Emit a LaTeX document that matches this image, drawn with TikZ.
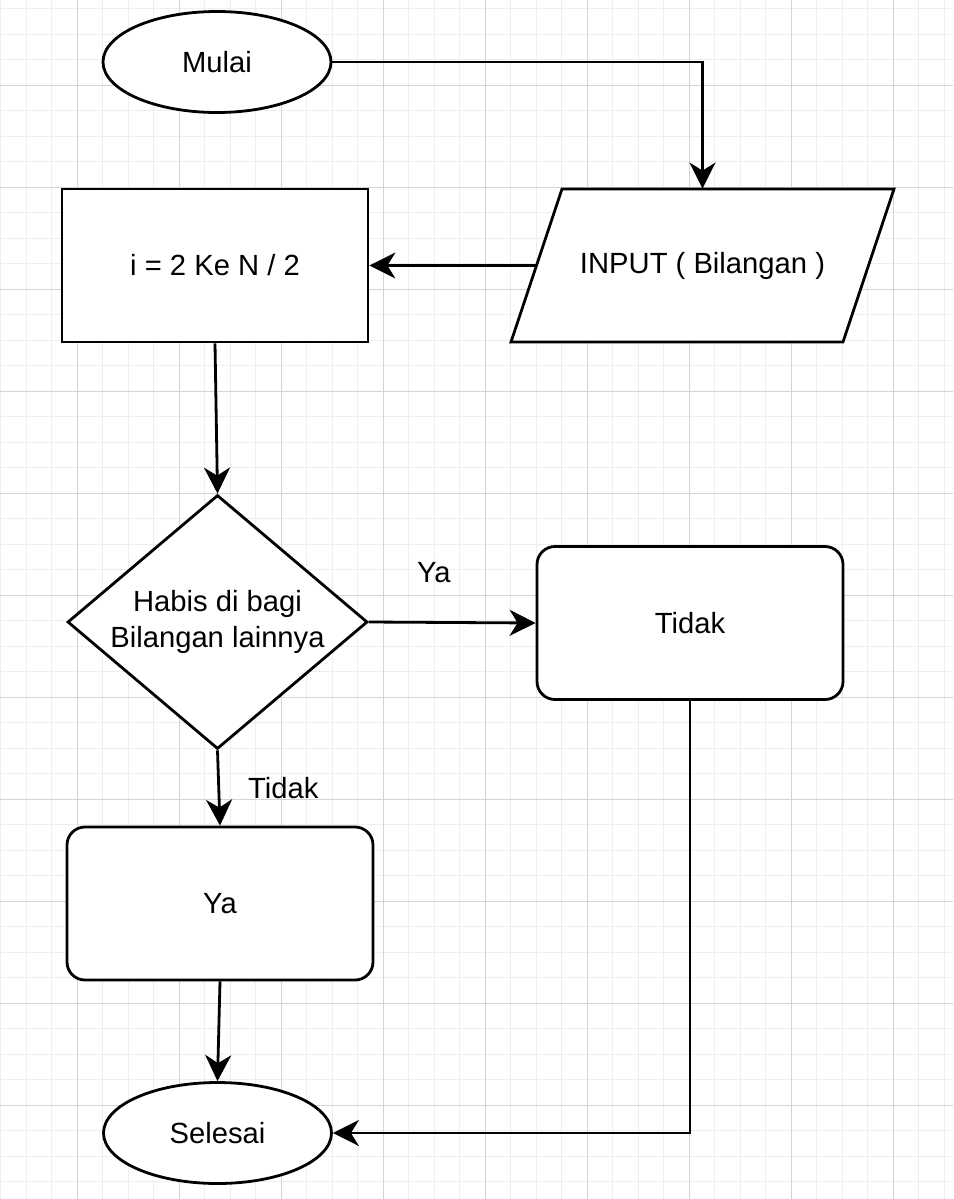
\documentclass[tikz,border=0pt]{standalone}
\usepackage{fontspec}
\setmainfont{Liberation Sans}
\usetikzlibrary{shapes.geometric,arrows.meta}
\definecolor{gridminor}{HTML}{EEEEEE}
\definecolor{gridmajor}{HTML}{D4D4D4}

\begin{document}
\begin{tikzpicture}[x=0.5pt,y=-0.5pt,
   every node/.style={font=\fontsize{14.6}{18}\selectfont},
   terminal/.style={draw, ellipse, line width=1.4pt, fill=white, inner sep=0pt, minimum width=114pt, minimum height=50.5pt},
   process/.style={draw, rectangle, line width=1.4pt, fill=white, minimum width=153pt, minimum height=76.5pt},
   hasil/.style={process, rounded corners=9pt},
   io/.style={draw, line width=1.4pt, fill=white},
   iotext/.style={inner sep=0pt, minimum width=166pt, minimum height=76.5pt},
   decision/.style={draw, diamond, aspect=1.18, line width=1.4pt, fill=white, inner sep=0pt, align=center, minimum width=150pt, minimum height=127pt},
   flow/.style={line width=1.4pt, -{Stealth[length=13pt,width=13pt,inset=4pt]}},
   ket/.style={inner sep=0pt}]
\useasboundingbox (0,0) rectangle (953,1199);
\fill[white] (0,0) rectangle (953,1199);

% grid
\foreach \x in {0,...,37}
   \draw[gridminor, line width=0.5pt] ({0.5+25.5*\x},0) -- ({0.5+25.5*\x},1199);
\foreach \y in {0,...,46}
   \draw[gridminor, line width=0.5pt] (0,{8.5+25.5*\y}) -- (953,{8.5+25.5*\y});
\foreach \x in {77,179,...,893}
   \draw[gridmajor, line width=0.5pt] (\x,0) -- (\x,1199);
\foreach \y in {85,187,...,1105}
   \draw[gridmajor, line width=0.5pt] (0,\y) -- (953,\y);

% nodes
\node[terminal] (mulai) at (217,62) {Mulai};
\coordinate (inputpos) at (702.5,265.5);
\draw[io] (inputpos) ++(-140.5,-76.5) -- ++(332,0) -- ++(-51,153) -- ++(-332,0) -- cycle;
\node[iotext] (input) at (inputpos) {INPUT ( Bilangan )};
\node[process] (hitung) at (215,265.5) {i = 2 Ke N / 2};
\node[decision] (cek) at (217.5,622) {Habis di bagi\\Bilangan lainnya};
\node[hasil] (tidak) at (690,623) {Tidak};
\node[hasil] (ya) at (220,903.5) {Ya};
\node[terminal] (selesai) at (217.5,1133) {Selesai};

% connectors
\draw[flow] (mulai.east) -| (input.north);
\draw[flow] (input.west) -- (hitung.east);
\draw[flow] (hitung.south) -- (cek.north);
\draw[flow] (cek.east) -- node[ket, pos=0.39, above=19pt] {Ya} (tidak.west);
\draw[flow] (cek.south) -- node[ket, midway, right=14pt] {Tidak} (ya.north);
\draw[flow] (ya.south) -- (selesai.north);
\draw[flow] (tidak.south) |- (selesai.east);
\end{tikzpicture}
\end{document}
